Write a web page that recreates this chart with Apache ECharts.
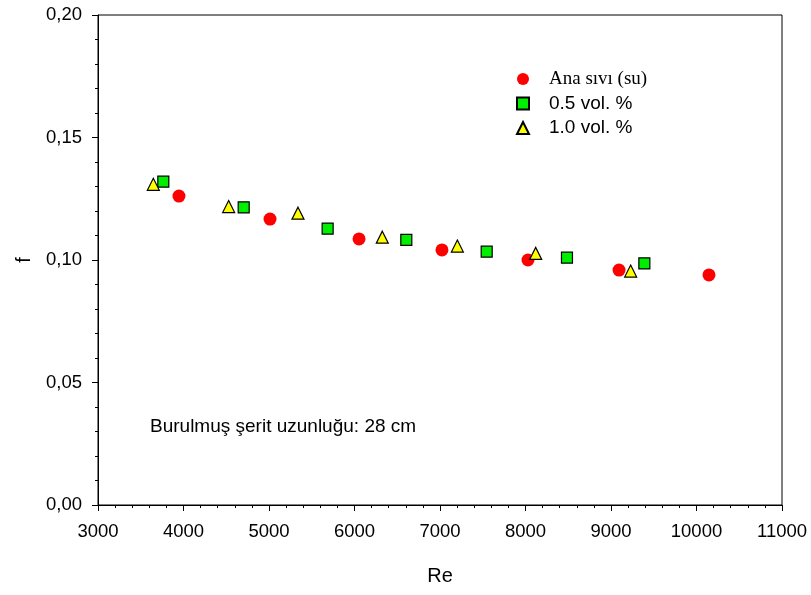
<!DOCTYPE html>
<html>
<head>
<meta charset="utf-8">
<script src="https://cdn.jsdelivr.net/npm/echarts@6/dist/echarts.min.js"></script>
<style>html,body{margin:0;padding:0;background:#fff}#c{width:811px;height:595px}</style>
</head>
<body>
<div id="c"></div>
<script>
var seriesNames = ['Ana sıvı (su)', '0.5 vol. %', '1.0 vol. %'];
var reBase = [3947, 5012, 6053, 7023, 8029, 9094, 10146];
var fBase  = [0.1261, 0.1167, 0.1086, 0.1041, 0.1000, 0.0959, 0.0939];
var re05 = [3764, 4704, 5686, 6606, 7546, 8485, 9390];
var f05  = [0.1320, 0.1215, 0.1128, 0.1082, 0.1034, 0.1010, 0.0986];
var re10 = [3647, 4528, 5339, 6325, 7203, 8119, 9230];
var f10  = [0.1309, 0.1218, 0.1191, 0.1093, 0.1057, 0.1027, 0.0955];
var annotation = 'Burulmuş şerit uzunluğu: 28 cm';

function pairs(xs, ys) { return xs.map(function (x, i) { return [x, ys[i]]; }); }

var chart = echarts.init(document.getElementById('c'), null, {renderer: 'canvas'});
var font = 'Liberation Sans, Arial, sans-serif';
chart.setOption({
  animation: false,
  backgroundColor: '#fff',
  grid: {left: 98, top: 15, right: 29, bottom: 90, show: true, borderColor: '#000', borderWidth: 1, backgroundColor: 'transparent'},
  xAxis: {
    type: 'value', min: 3000, max: 11000, interval: 1000,
    name: 'Re', nameLocation: 'middle', nameGap: 61,
    nameTextStyle: {fontFamily: font, fontSize: 20, color: '#000'},
    axisLine: {show: true, lineStyle: {color: '#000', width: 1}},
    axisTick: {show: true, length: 6, lineStyle: {color: '#000'}},
    minorTick: {show: true, splitNumber: 5, length: 3, lineStyle: {color: '#000'}},
    splitLine: {show: false},
    axisLabel: {fontFamily: font, fontSize: 18.5, color: '#000', margin: 17,
      formatter: function (v) { return String(v); }}
  },
  yAxis: {
    type: 'value', min: 0, max: 0.2, interval: 0.05,
    name: 'f', nameLocation: 'middle', nameGap: 64, nameRotate: 90,
    nameTextStyle: {fontFamily: font, fontSize: 20, color: '#000'},
    axisLine: {show: true, lineStyle: {color: '#000', width: 1}},
    axisTick: {show: true, length: 6, lineStyle: {color: '#000'}},
    minorTick: {show: true, splitNumber: 5, length: 3, lineStyle: {color: '#000'}},
    splitLine: {show: false},
    axisLabel: {fontFamily: font, fontSize: 18.5, color: '#000', margin: 16,
      formatter: function (v) { return v.toFixed(2).replace('.', ','); }}
  },
  legend: {
    orient: 'vertical', left: 511, top: 64, itemGap: 4.5, itemWidth: 12, itemHeight: 12,
    textStyle: {fontFamily: font, fontSize: 19, color: '#000', lineHeight: 20, padding: [0, 0, 0, 15]},
    data: [
      {name: seriesNames[0], textStyle: {fontFamily: 'Liberation Serif, Times New Roman, serif', fontSize: 19}},
      {name: seriesNames[1]},
      {name: seriesNames[2]}
    ]
  },
  graphic: [{
    type: 'text', x: 150, y: 426.5,
    style: {text: annotation, font: '19px Liberation Sans, Arial, sans-serif', fill: '#000', verticalAlign: 'middle'}
  }],
  series: [
    {name: seriesNames[0], type: 'scatter', symbol: 'circle', symbolSize: 13,
     itemStyle: {color: '#ff0000', opacity: 1}, data: pairs(reBase, fBase), z: 3},
    {name: seriesNames[1], type: 'scatter', symbol: 'rect', symbolSize: 11,
     itemStyle: {color: '#00ee00', borderColor: '#000', borderWidth: 1.2, opacity: 1}, data: pairs(re05, f05), z: 4},
    {name: seriesNames[2], type: 'scatter', symbol: 'triangle', symbolSize: 12,
     itemStyle: {color: '#ffff00', borderColor: '#000', borderWidth: 1.2, opacity: 1}, data: pairs(re10, f10), z: 5}
  ]
});
</script>
</body>
</html>
